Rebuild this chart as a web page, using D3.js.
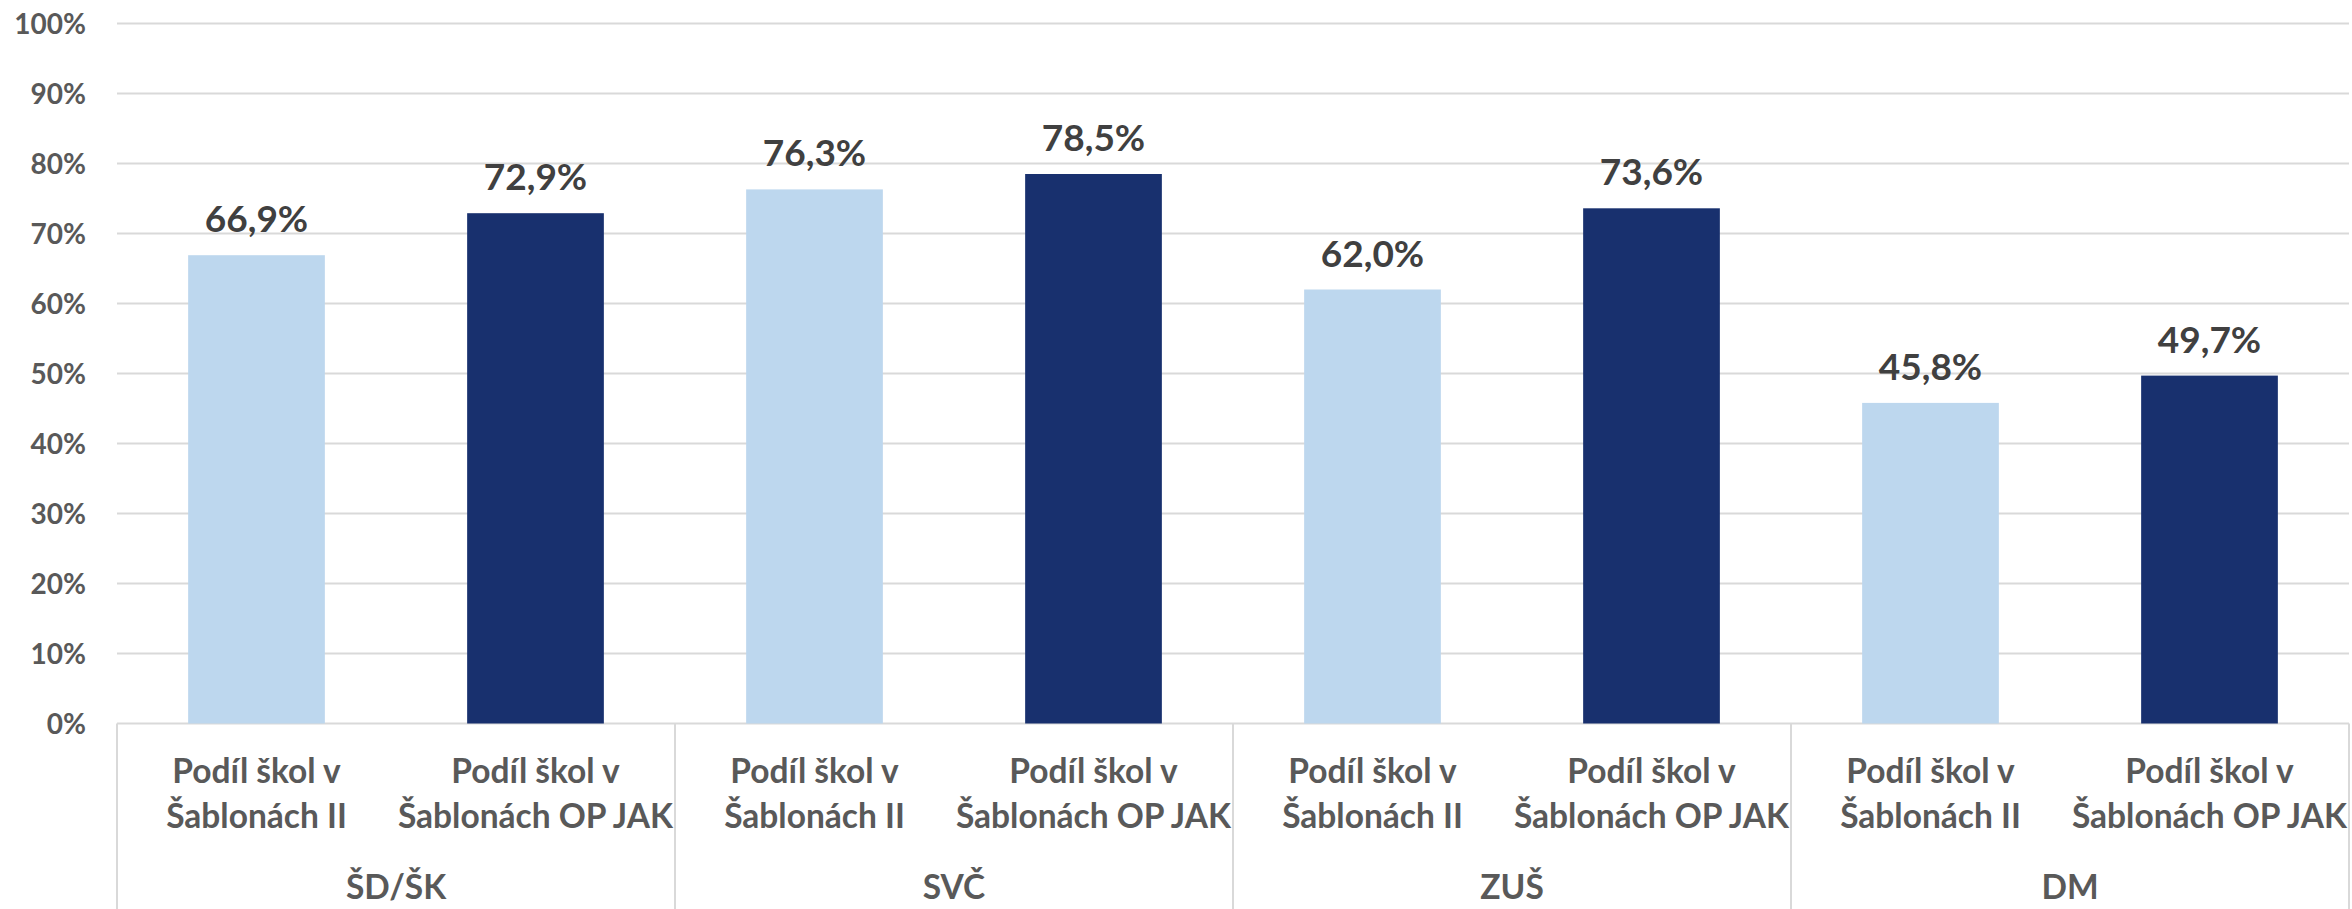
<!DOCTYPE html>
<html>
<head>
  <meta charset="UTF-8">
  <title>Podíl škol v Šablonách</title>
  <style>
    body { margin: 0; background: #fff; }
    svg text { font-family: Lato, "Open Sans", sans-serif; font-weight: bold; }
  </style>
</head>
<body>
<svg id="chart" width="2352" height="909"></svg>
<script src="https://d3js.org/d3.v7.min.js"></script>
<script>

// data
var groups = ["ŠD/ŠK", "SVČ", "ZUŠ", "DM"];
var seriesNames = ["Podíl škol v Šablonách II", "Podíl škol v Šablonách OP JAK"];
var seriesLines = [["Podíl škol v", "Šablonách II"], ["Podíl škol v", "Šablonách OP JAK"]];
var sablonyII = [66.9, 76.3, 62.0, 45.8];
var sablonyOPJAK = [72.9, 78.5, 73.6, 49.7];
var yTicks = [0, 10, 20, 30, 40, 50, 60, 70, 80, 90, 100];
var colors = ["#BDD7EE", "#18306E"];

var svg = d3.select("#chart"),
    width = +svg.attr("width"),
    height = +svg.attr("height");

var plotLeft = 117, plotRight = 2349, plotTop = 23.5, plotBottom = 723.5;

var x0 = d3.scaleBand().domain(groups).range([plotLeft, plotRight]);
var x1 = d3.scaleBand().domain(seriesNames).range([0, x0.bandwidth()]);
var y = d3.scaleLinear().domain([0, 100]).range([plotBottom, plotTop]);

var rows = groups.map(function(g, i) {
  return { group: g, values: [sablonyII[i], sablonyOPJAK[i]] };
});

// gridlines
svg.append("g")
  .selectAll("line")
  .data(yTicks)
  .enter().append("line")
    .attr("x1", plotLeft)
    .attr("x2", plotRight)
    .attr("y1", function(d) { return y(d); })
    .attr("y2", function(d) { return y(d); })
    .style("stroke", "#D9D9D9")
    .style("stroke-width", 2);

// y axis labels
svg.append("g")
  .selectAll("text")
  .data(yTicks)
  .enter().append("text")
    .attr("x", 86)
    .attr("y", function(d) { return y(d); })
    .attr("dy", "0.36em")
    .attr("text-anchor", "end")
    .style("font-size", "28px")
    .style("fill", "#595959")
    .text(function(d) { return d + "%"; });

// bars
var g = svg.append("g")
  .selectAll("g")
  .data(rows)
  .enter().append("g")
    .attr("transform", function(d) { return "translate(" + x0(d.group) + ",0)"; });

var bw = x1.bandwidth() * 0.49;

g.selectAll("rect")
  .data(function(d) { return d.values.map(function(v, i) { return { s: i, v: v }; }); })
  .enter().append("rect")
    .attr("x", function(d) { return x1(seriesNames[d.s]) + (x1.bandwidth() - bw) / 2; })
    .attr("y", function(d) { return y(d.v); })
    .attr("width", bw)
    .attr("height", function(d) { return plotBottom - y(d.v); })
    .style("fill", function(d) { return colors[d.s]; });

// value labels
g.selectAll("text.val")
  .data(function(d) { return d.values.map(function(v, i) { return { s: i, v: v }; }); })
  .enter().append("text")
    .attr("class", "val")
    .attr("x", function(d) { return x1(seriesNames[d.s]) + x1.bandwidth() / 2; })
    .attr("y", function(d) { return y(d.v) - 23; })
    .attr("text-anchor", "middle")
    .style("font-size", "37px")
    .style("fill", "#404040")
    .text(function(d) { return d.v.toFixed(1).replace(".", ",") + "%"; });

// category labels (two lines)
g.selectAll("text.cat")
  .data(seriesLines)
  .enter().append("text")
    .attr("class", "cat")
    .attr("x", function(d, i) { return x1(seriesNames[i]) + x1.bandwidth() / 2; })
    .attr("y", 783)
    .attr("text-anchor", "middle")
    .style("font-size", "33.5px")
    .style("fill", "#595959")
    .selectAll("tspan")
    .data(function(d) { return d; })
    .enter().append("tspan")
      .attr("x", function() { return d3.select(this.parentNode).attr("x"); })
      .attr("dy", function(d, i) { return i === 0 ? 0 : 45; })
      .text(function(d) { return d; });

// group labels
g.append("text")
  .attr("x", x0.bandwidth() / 2)
  .attr("y", 899)
  .attr("text-anchor", "middle")
  .style("font-size", "33.5px")
  .style("fill", "#595959")
  .text(function(d) { return d.group; });

// group dividers
svg.append("g")
  .selectAll("line")
  .data(groups.map(function(d) { return x0(d); }).concat([plotRight]))
  .enter().append("line")
    .attr("x1", function(d) { return d; })
    .attr("x2", function(d) { return d; })
    .attr("y1", plotBottom)
    .attr("y2", height)
    .style("stroke", "#D9D9D9")
    .style("stroke-width", 2);

</script>
</body>
</html>
